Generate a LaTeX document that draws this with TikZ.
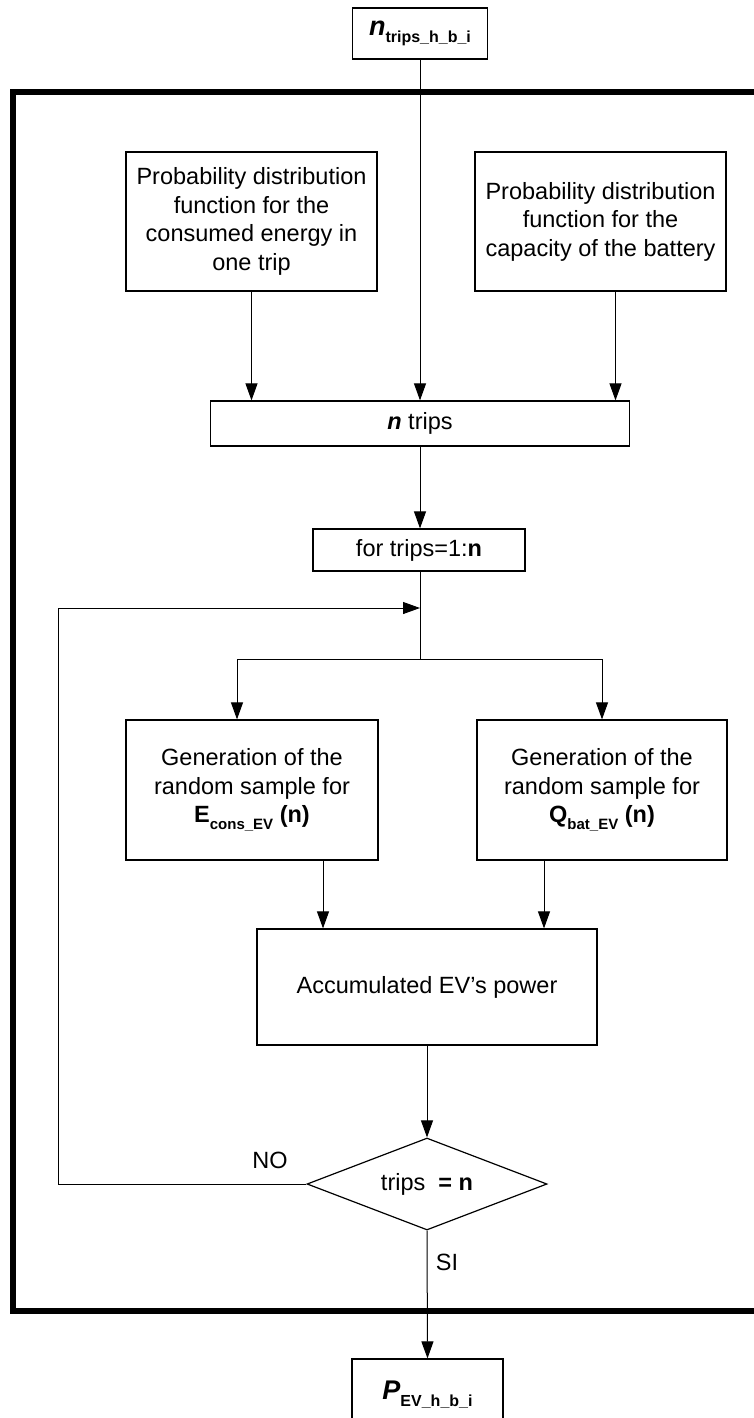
\documentclass[tikz,border=0pt]{standalone}
\usepackage{fontspec}
\setmainfont{Liberation Sans}
\usetikzlibrary{arrows.meta,shapes.geometric,calc}
\newcommand{\mysub}[2][15]{\raisebox{-0.28em}{\fontsize{#1}{#1}\selectfont\bfseries #2}}
\begin{document}
\begin{tikzpicture}[x=1pt,y=-1pt,
  box/.style={draw,line width=1.2pt,inner sep=0pt,align=center,font=\fontsize{23.5}{28.5}\selectfont},
  conn/.style={line width=1pt,-{Triangle[length=17pt,width=12pt]}},
  plain/.style={line width=1pt},
  frame/.style={line width=6pt},
  lbl/.style={font=\fontsize{23.5}{28.5}\selectfont,inner sep=0pt}]
\useasboundingbox (0,0) rectangle (754,1418);
\clip (0,0) rectangle (754,1418);
% outer frame (right side lies outside the picture)
\draw[frame] (800,92) -- (12.5,92) -- (12.5,1311) -- (800,1311);
% nodes
\node[box,minimum width=135,minimum height=51] (top) at (420,33.5)
  {{\fontsize{27}{28}\selectfont\bfseries\itshape n}\mysub[16]{trips\_h\_b\_i}};
\node[box,minimum width=251,minimum height=139] (pd1) at (251.5,221.5)
  {Probability distribution\\function for the\\consumed energy in\\one trip};
\node[box,minimum width=251,minimum height=139] (pd2) at (600.5,221.5)
  {Probability distribution\\function for the\\capacity of the battery};
\node[box,minimum width=419,minimum height=45] (ntrips) at (420,423.5)
  {\textbf{\textit{n}} trips};
\node[box,minimum width=212,minimum height=42] (for) at (419,550)
  {for trips=1:\textbf{n}};
\node[box,minimum width=252,minimum height=140] (gen1) at (252,790)
  {Generation of the\\random sample for\\\textbf{E}\mysub{cons\_EV} \textbf{(n)}};
\node[box,minimum width=250,minimum height=140] (gen2) at (602,790)
  {Generation of the\\random sample for\\\textbf{Q}\mysub{bat\_EV} \textbf{(n)}};
\node[box,minimum width=340,minimum height=116] (acc) at (427,987)
  {Accumulated EV’s power};
\node[box,diamond,aspect=2.6,minimum width=240,minimum height=92] (dia) at (427,1184)
  {trips\ \ \textbf{= n}};
\node[box,minimum width=151,minimum height=71] (out) at (427.5,1394.5)
  {{\fontsize{27}{28}\selectfont\bfseries\itshape P}\mysub[16]{EV\_h\_b\_i}};
\node[lbl] (no) at (270,1160) {NO};
\node[lbl] (si) at (447,1262) {SI};
% helper coordinates
\coordinate (br) at (420,659);
\coordinate (bl) at (237,659);
\coordinate (brr) at (602,659);
\coordinate (lp1) at (58,1184);
\coordinate (lp2) at (58,608);
\coordinate (lj) at (420,608);
% connectors
\draw[conn] (top.south) -- (top.south |- ntrips.north);
\draw[conn] (pd1.south) -- (pd1.south |- ntrips.north);
\draw[conn] ([xshift=15]pd2.south) -- ([xshift=15]pd2.south |- ntrips.north);
\draw[conn] (ntrips.south) -- (ntrips.south |- for.north);
\draw[plain] (ntrips.south |- for.south) -- (br);
\draw[conn] (br) -- (bl) -- (bl |- gen1.north);
\draw[conn] (br) -- (brr) -- (brr |- gen2.north);
\draw[conn] ([xshift=71]gen1.south) -- ([xshift=71]gen1.south |- acc.north);
\draw[conn] ([xshift=-58]gen2.south) -- ([xshift=-58]gen2.south |- acc.north);
\draw[conn] (acc.south) -- (dia.north);
\draw[conn] (dia.west) -- (lp1) -- (lp2) -- (lj);
\draw[conn] (dia.south) -- (out.north);
\end{tikzpicture}
\end{document}
